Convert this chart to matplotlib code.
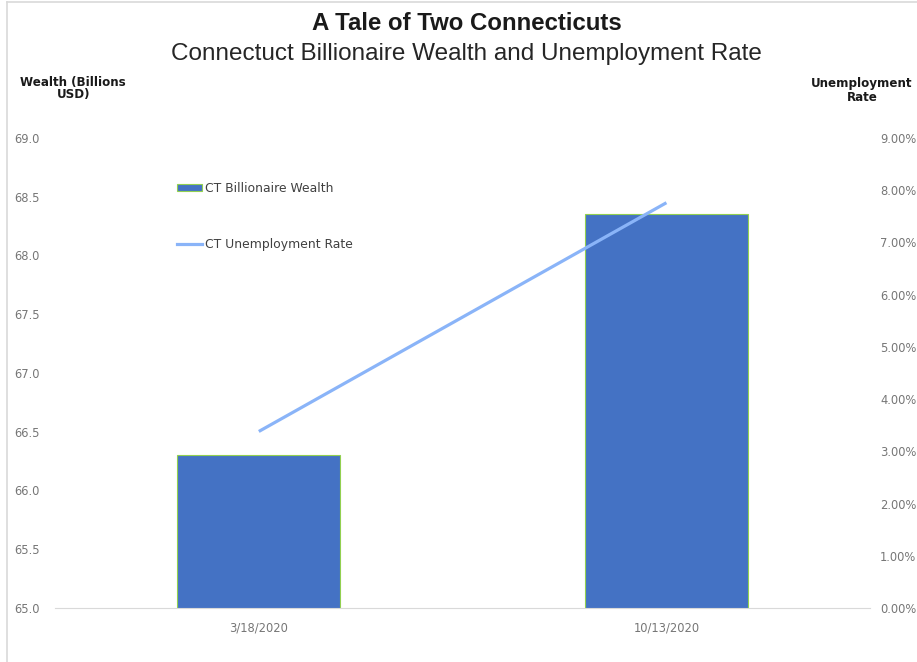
import matplotlib
matplotlib.use('Agg')
import matplotlib.pyplot as plt
from matplotlib.patches import Patch
from matplotlib.lines import Line2D
from matplotlib.ticker import FuncFormatter

plt.rcParams['font.family'] = ['DejaVu Sans']

# data
dates = ['3/18/2020', '10/13/2020']
wealth = [66.30, 68.35]          # billions USD
unemployment = [3.38, 7.76]      # percent

bar_color = '#4472C4'
edge_color = '#92D050'
line_color = '#8AB4F8'
tick_color = '#767676'

fig = plt.figure(figsize=(9.17, 6.62), dpi=100)
ax = fig.add_axes([0.060, 0.0816, 0.889, 0.710])

x = list(range(len(dates)))
ax.bar(x, wealth, width=0.4, color=bar_color, edgecolor=edge_color, linewidth=0.8, zorder=2)
ax.set_ylim(65.0, 69.0)
ax.set_xlim(-0.5, 1.5)
ax.set_yticks([65.0 + 0.5 * i for i in range(9)])
ax.yaxis.set_major_formatter(FuncFormatter(lambda v, p: f'{v:.1f}'))
ax.set_xticks(x)
ax.set_xticklabels(dates)

ax2 = ax.twinx()
ax2.plot(x, unemployment, color=line_color, linewidth=2.3, solid_capstyle='butt', zorder=3)
ax2.set_ylim(0, 9)
ax2.set_yticks(range(10))
ax2.yaxis.set_major_formatter(FuncFormatter(lambda v, p: f'{v:.2f}%'))

for a in (ax, ax2):
    for s in a.spines.values():
        s.set_visible(False)
    a.tick_params(length=0, labelsize=8.3, labelcolor=tick_color)
ax.spines['bottom'].set_visible(True)
ax.spines['bottom'].set_color('#D9D9D9')
ax.tick_params(axis='y', pad=11)
ax.tick_params(axis='x', pad=10)
ax2.tick_params(axis='y', pad=7)

fig.text(0.509, 0.965, 'A Tale of Two Connecticuts', ha='center', va='center',
         fontsize=17.3, fontweight='bold', color='#1a1a1a', family='Liberation Sans')
fig.text(0.509, 0.919, 'Connectuct Billionaire Wealth and Unemployment Rate', ha='center',
         va='center', fontsize=17.5, color='#262626', family='Liberation Sans')
fig.text(0.080, 0.866, 'Wealth (Billions\nUSD)', ha='center', va='center', fontsize=8.6,
         fontweight='bold', linespacing=0.85, color='#1a1a1a')
fig.text(0.940, 0.863, 'Unemployment\nRate', ha='center', va='center', fontsize=8.6,
         fontweight='bold', linespacing=1.1, color='#1a1a1a')

handles = [Patch(facecolor=bar_color, edgecolor=edge_color, linewidth=0.8),
           Line2D([0], [0], color=line_color, linewidth=2.3)]
ax2.legend(handles, ['CT Billionaire Wealth', 'CT Unemployment Rate'],
           loc='upper left', bbox_to_anchor=(177 / 917, 1 - 182 / 662),
           bbox_transform=fig.transFigure, frameon=False, fontsize=8.9,
           labelspacing=3.45, handlelength=2.0, handleheight=0.45,
           handletextpad=0.3, borderpad=0, borderaxespad=0, labelcolor='#404040')

# light frame around the chart area
fig.add_artist(Line2D([7 / 917, 7 / 917], [0, 1 - 2 / 662], color='#D9D9D9', linewidth=1.2,
                      transform=fig.transFigure))
fig.add_artist(Line2D([7 / 917, 1], [1 - 2 / 662, 1 - 2 / 662], color='#D9D9D9', linewidth=1.2,
                      transform=fig.transFigure))

fig.savefig('out.png', dpi=100)
